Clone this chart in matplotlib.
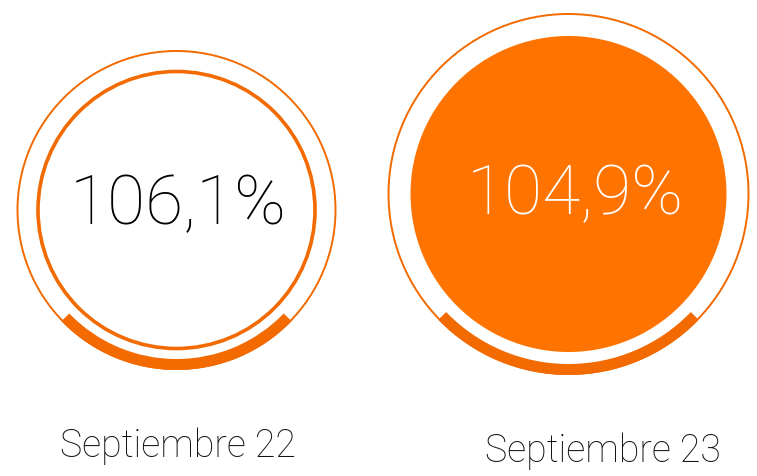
import matplotlib.pyplot as plt
from matplotlib.patches import Circle, Wedge

# datos
periodos = ["Septiembre 22", "Septiembre 23"]
valores = [106.1, 104.9]
relleno = [False, True]  # el ultimo periodo va en circulo relleno

# geometria de cada circulo (pixeles)
centros = [(176.5, 210), (568.5, 194)]
radio_ext = [160, 181]
radio_int = [140, 158]
texto_pos = [(178, 205), (575, 195)]
etiqueta_pos = [(177.5, 446), (603, 451)]

naranja = '#F26A00'
naranja_fill = '#FF7400'

fig = plt.figure(figsize=(7.57, 4.76), dpi=100)
ax = fig.add_axes([0, 0, 1, 1])
ax.set_xlim(0, 757)
ax.set_ylim(476, 0)
ax.set_aspect('equal')
ax.axis('off')

for i, per in enumerate(periodos):
    cx, cy = centros[i]
    r1, r2 = radio_ext[i], radio_int[i]
    # circulo exterior fino
    ax.add_patch(Circle((cx, cy), r1 - 1, fill=False, ec=naranja, lw=1.4))
    # arco grueso inferior
    ax.add_patch(Wedge((cx, cy), r1, 44, 136, width=11, fc=naranja, ec='none'))
    if relleno[i]:
        ax.add_patch(Circle((cx, cy), r2, fc=naranja_fill, ec='none'))
        col = 'white'
    else:
        ax.add_patch(Circle((cx, cy), r2 - 1.5, fill=False, ec=naranja, lw=2.6))
        col = 'black'
    txt = f"{valores[i]:.1f}%".replace('.', ',')
    ax.text(*texto_pos[i], txt, ha='center', va='center', fontsize=50,
            color=col, family=['Roboto', 'DejaVu Sans'], fontweight='light')
    ax.text(*etiqueta_pos[i], per, ha='center', va='center', fontsize=27,
            color='#111111', family=['Roboto', 'DejaVu Sans'], fontweight='light')

fig.savefig('out.png', dpi=100)
